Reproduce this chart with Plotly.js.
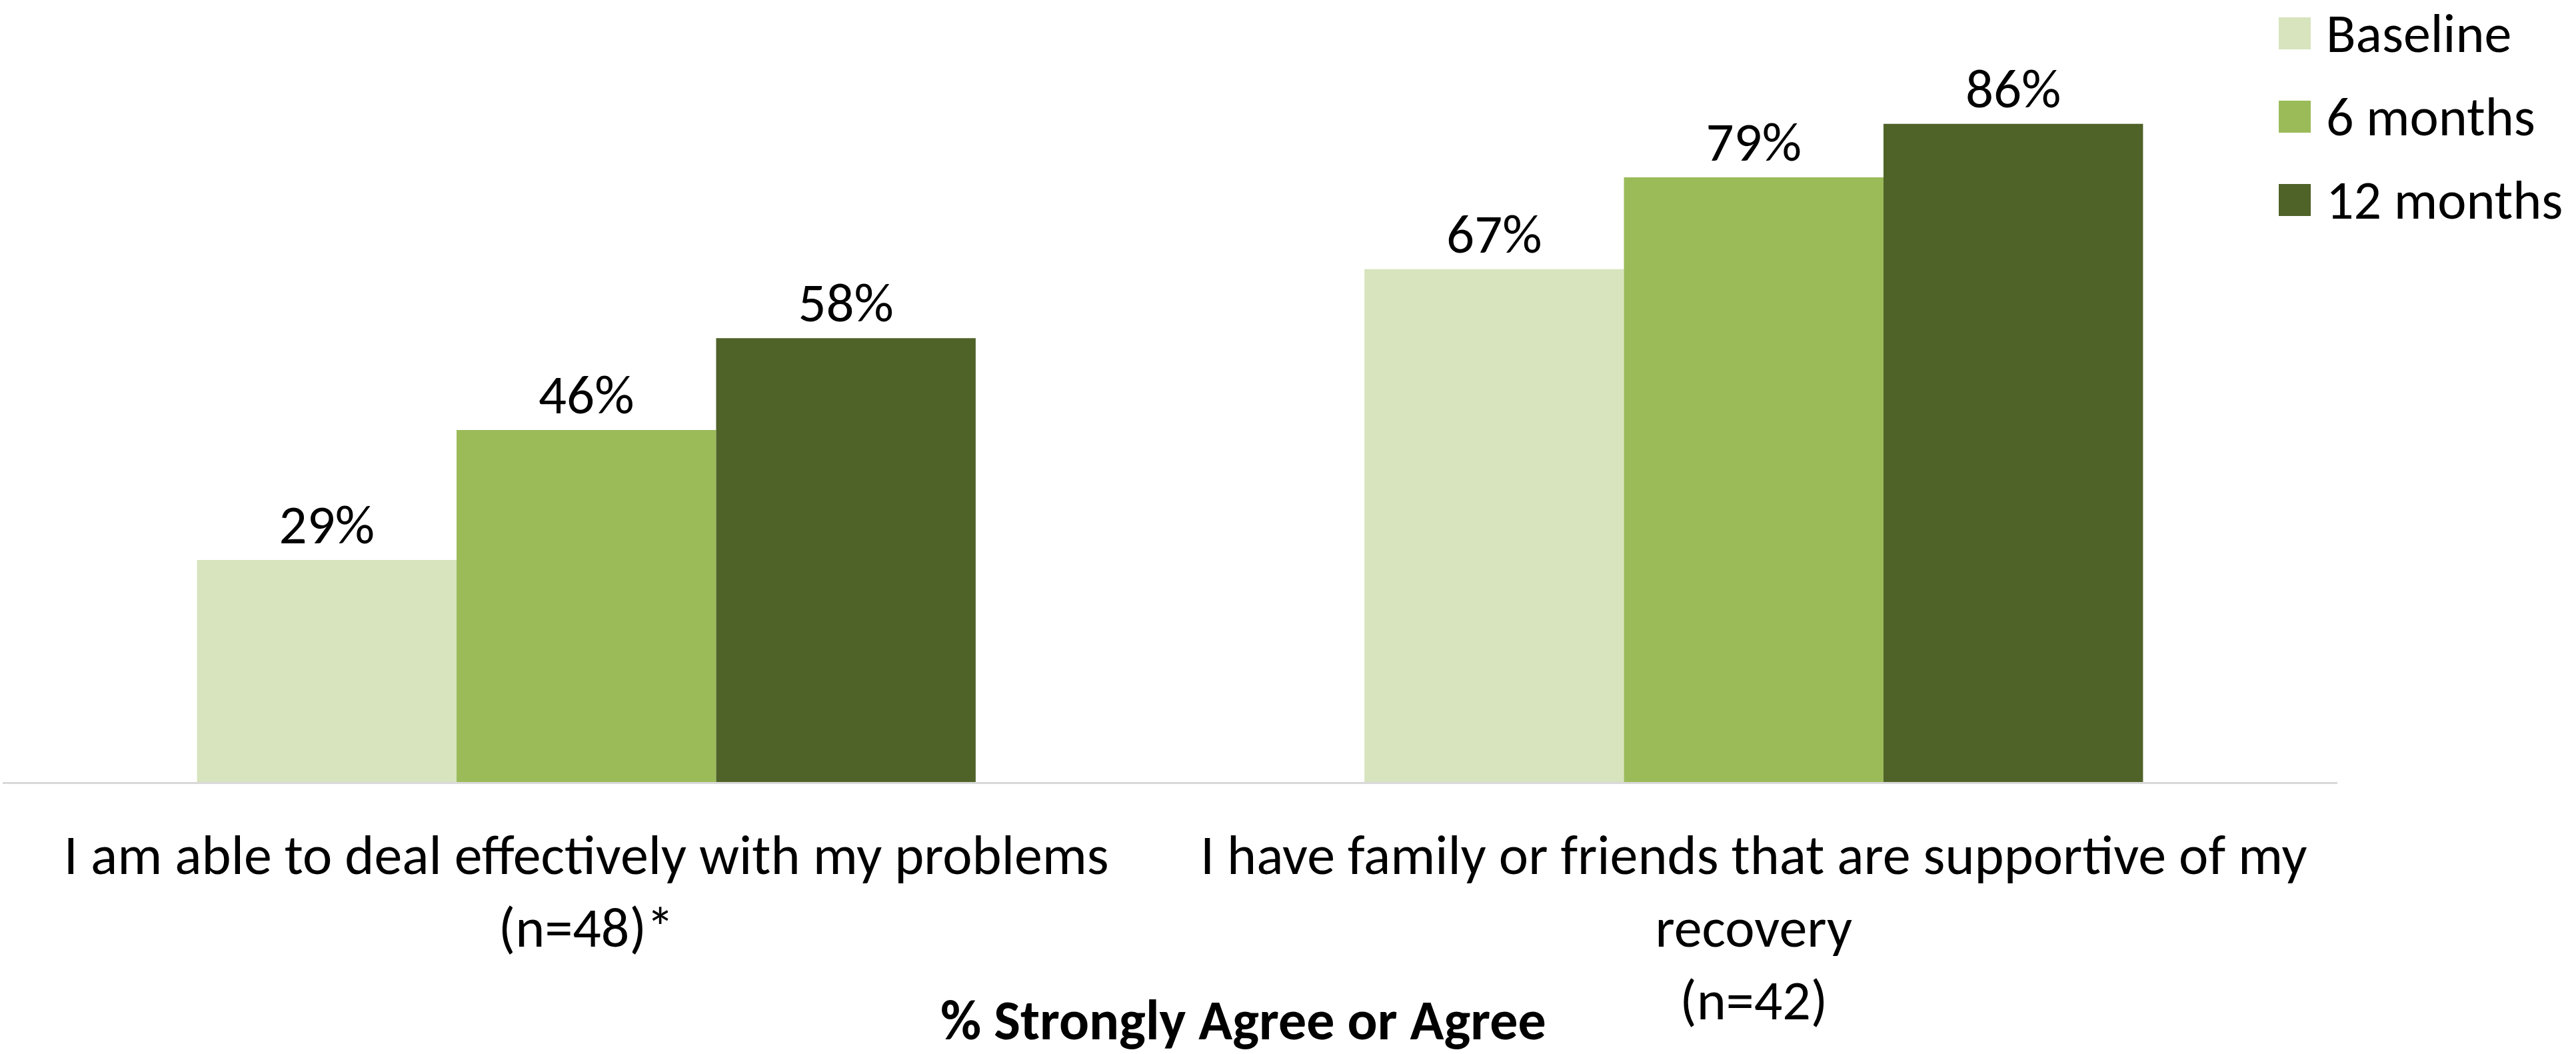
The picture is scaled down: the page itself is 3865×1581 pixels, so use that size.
<!DOCTYPE html>
<html>
<head>
<meta charset="utf-8">
<script src="https://cdn.plot.ly/plotly-3.0.1.min.js"></script>
<style>
html,body{margin:0;padding:0;background:#fff;}
#chart{width:3865px;height:1581px;}
</style>
</head>
<body>
<div id="chart"></div>
<script>
// ---- data ----
var categories = ["cat1", "cat2"];
var categoryLabels = [
  "I am able to deal effectively with my problems<br>(n=48)*",
  "I have family or friends that are supportive of my<br>recovery<br>(n=42)"
];
var seriesNames = ["Baseline", "6 months", "12 months"];
var baselineValues = [29, 67];
var sixMonthValues = [46, 79];
var twelveMonthValues = [58, 86];
var seriesColors = ["#D7E4BD", "#9BBB59", "#4F6228"];
var axisTitle = "% Strongly Agree or Agree";

var FONT = "Carlito, Lato, sans-serif";
var W = 3865, H = 1581;
var M = {l: 4, r: 358, t: 25, b: 408};
var plotW = W - M.l - M.r, plotH = H - M.t - M.b;
function px2x(px){ return (px - M.l) / plotW; }
function py2y(py){ return (H - M.b - py) / plotH; }

var allValues = [baselineValues, sixMonthValues, twelveMonthValues];
var traces = seriesNames.map(function(name, i){
  return {
    type: "bar",
    name: name,
    x: categories,
    y: allValues[i],
    marker: {color: seriesColors[i]},
    text: allValues[i].map(function(v){ return v + "%"; }),
    textposition: "outside",
    textfont: {family: FONT, size: 83, color: "#000"},
    cliponaxis: false,
    showlegend: false,
    hoverinfo: "skip"
  };
});

// manual legend (large squares)
var shapes = [], annotations = [];
var rowCenters = [50, 175, 300];
seriesNames.forEach(function(name, i){
  var cy = rowCenters[i];
  shapes.push({
    type: "rect", xref: "paper", yref: "paper",
    x0: px2x(3419), x1: px2x(3467),
    y0: py2y(cy + 24), y1: py2y(cy - 24),
    fillcolor: seriesColors[i], line: {width: 0}
  });
  annotations.push({
    xref: "paper", yref: "paper",
    x: px2x(3488), y: py2y(cy),
    xanchor: "left", yanchor: "middle",
    text: name, showarrow: false,
    font: {family: FONT, size: 82, color: "#000"}
  });
});
annotations.push({
  xref: "paper", yref: "paper",
  x: px2x(1866), y: py2y(1530),
  xanchor: "center", yanchor: "middle",
  text: "<b>" + axisTitle + "</b>", showarrow: false,
  font: {family: FONT, size: 84, color: "#000"}
});

var layout = {
  width: W, height: H,
  margin: M,
  paper_bgcolor: "#fff", plot_bgcolor: "#fff",
  barmode: "group",
  bargap: 0.333, bargroupgap: 0,
  showlegend: false,
  font: {family: FONT, color: "#000"},
  xaxis: {
    type: "category",
    tickmode: "array",
    tickvals: categories,
    ticktext: categoryLabels,
    tickfont: {family: FONT, size: 84, color: "#000"},
    ticks: "outside", ticklen: 34, tickcolor: "rgba(0,0,0,0)",
    showline: true, linecolor: "#D9D9D9", linewidth: 3,
    showgrid: false, zeroline: false
  },
  yaxis: {
    range: [0, 100],
    visible: false,
    showgrid: false, zeroline: false
  },
  shapes: shapes,
  annotations: annotations
};

Plotly.newPlot("chart", traces, layout, {displayModeBar: false, staticPlot: true});
</script>
</body>
</html>
